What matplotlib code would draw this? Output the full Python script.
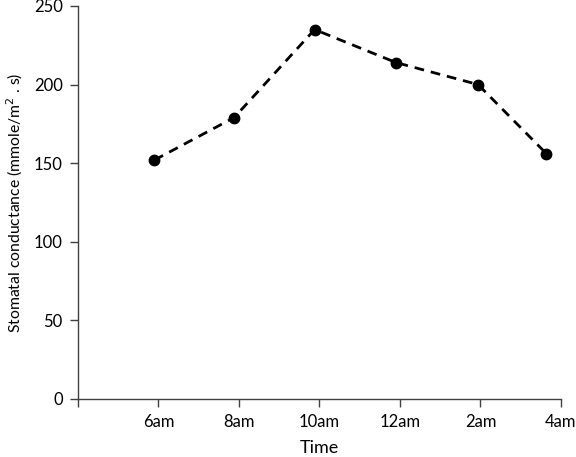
import numpy as np
import matplotlib.pyplot as plt

plt.rcParams['font.family'] = ['Lato', 'DejaVu Sans']

# data
times = ['6am', '8am', '10am', '12am', '2am', '4am']
x_pos = [0.95, 1.94, 2.94, 3.95, 4.97, 5.82]
conductance = [152, 179, 235, 214, 200, 156]

fig = plt.figure(figsize=(5.76, 4.57), dpi=100)
ax = fig.add_axes([0.1354, 0.127, 0.8385, 0.86])

ax.plot(x_pos, conductance, color='black', linestyle=(0, (3.5, 2.5)),
        linewidth=2, marker='o', markersize=7.5)

# axes
ax.set_xlim(0, 6)
ax.set_ylim(0, 250)
ax.set_xticks(np.arange(0, len(times) + 1))
ax.set_xticklabels([''] + times)
ax.set_yticks(np.arange(0, 251, 50))

for side in ['top', 'right']:
    ax.spines[side].set_visible(False)
for side in ['left', 'bottom']:
    ax.spines[side].set_color('#404040')
    ax.spines[side].set_linewidth(1)

ax.tick_params(direction='out', length=6, width=1, color='#404040',
               labelsize=12, pad=5)

ax.set_xlabel('Time', fontsize=13, labelpad=7)
ax.set_ylabel('Stomatal conductance (mmole/m$^2$ . s)', fontsize=11.3)
ax.yaxis.set_label_coords(-0.11, 0.5)

plt.savefig('out.png', dpi=100)
